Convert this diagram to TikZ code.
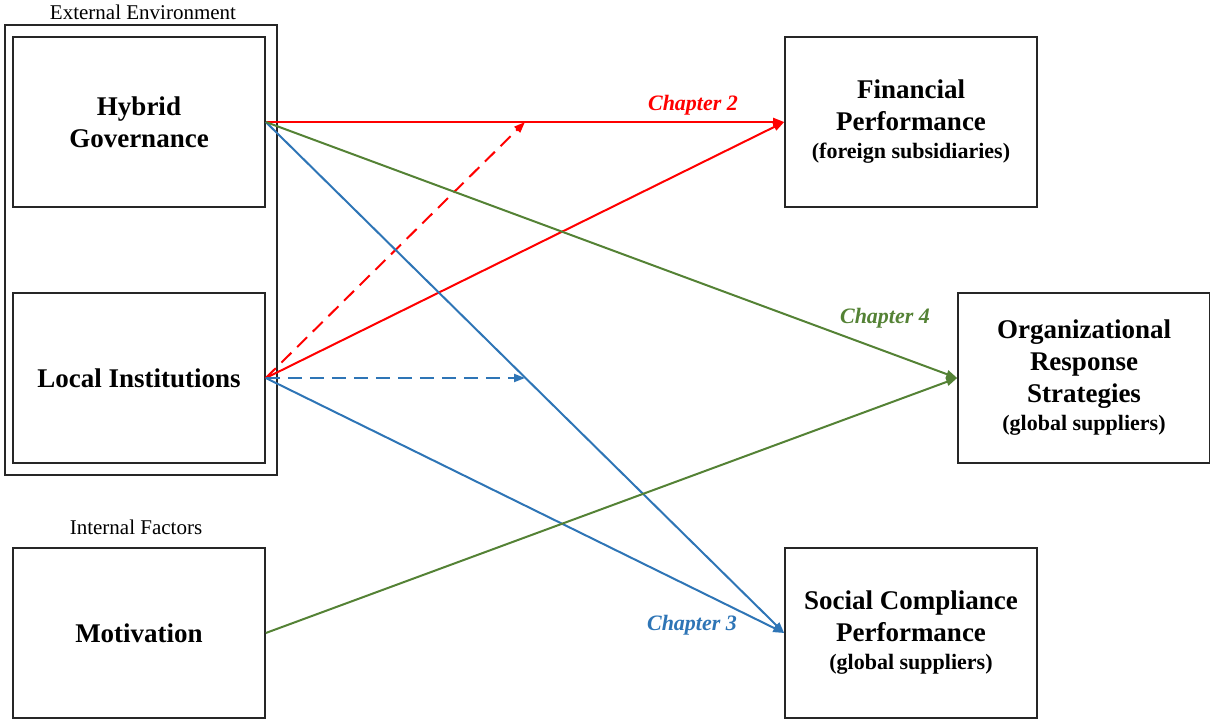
\documentclass[tikz,border=0pt]{standalone}
\usepackage{fontspec}
\setmainfont{Liberation Serif}
\usetikzlibrary{arrows.meta}
\definecolor{chred}{RGB}{255,0,0}
\definecolor{chblue}{RGB}{46,117,182}
\definecolor{chgreen}{RGB}{84,130,53}
\tikzset{
  >={Triangle[length=11pt,width=8pt]},
  box/.style={draw=black!85,line width=1.6pt,minimum width=252pt,minimum height=170pt,
    inner sep=0pt,align=center,font=\bfseries\fontsize{27}{32}\selectfont},
  chap/.style={font=\bfseries\itshape\fontsize{22}{24}\selectfont},
  link/.style={line width=2pt,->}
}
\newcommand{\sub}[1]{{\fontsize{22}{27}\selectfont #1}}
\begin{document}
\begin{tikzpicture}[x=1pt,y=-1pt]
\useasboundingbox (0,0) rectangle (1210,720);
% left side: environment and internal factors
\draw[black!85,line width=1.2pt] (5,25) rectangle (277,475);
\node[font=\fontsize{21}{24}\selectfont] (envlbl) at (143,12) {External Environment};
\node[font=\fontsize{21}{24}\selectfont] (intlbl) at (136,527) {Internal Factors};
\node[box] (hybrid) at (139,122) {Hybrid\\Governance};
\node[box] (local) at (139,378) {Local Institutions};
\node[box] (motiv) at (139,633) {Motivation};
% outcomes
\node[box] (finperf) at (911,122) {Financial\\Performance\\[-4pt]\sub{(foreign subsidiaries)}};
\node[box] (orgresp) at (1084,378) {Organizational\\Response\\Strategies\\[-4pt]\sub{(global suppliers)}};
\node[box] (socperf) at (911,633) {Social Compliance\\Performance\\[-4pt]\sub{(global suppliers)}};
\coordinate (redmid) at (525,122);
\coordinate (bluemid) at (525,378);
% chapter 2
\draw[link,chred] (hybrid.east) -- (finperf.west);
\draw[link,chred] (local.east) -- (finperf.west);
\draw[link,chred,dash pattern=on 14pt off 8pt] (local.east) -- (redmid);
\node[chap,text=chred] (ch2) at (693,105) {Chapter 2};
% chapter 3
\draw[link,chblue] (hybrid.east) -- (socperf.west);
\draw[link,chblue] (local.east) -- (socperf.west);
\draw[link,chblue,dash pattern=on 14pt off 8pt] (local.east) -- (bluemid);
\node[chap,text=chblue] (ch3) at (692,625) {Chapter 3};
% chapter 4
\draw[link,chgreen] (hybrid.east) -- (orgresp.west);
\draw[link,chgreen] (motiv.east) -- (orgresp.west);
\node[chap,text=chgreen] (ch4) at (885,318) {Chapter 4};
\end{tikzpicture}
\end{document}
